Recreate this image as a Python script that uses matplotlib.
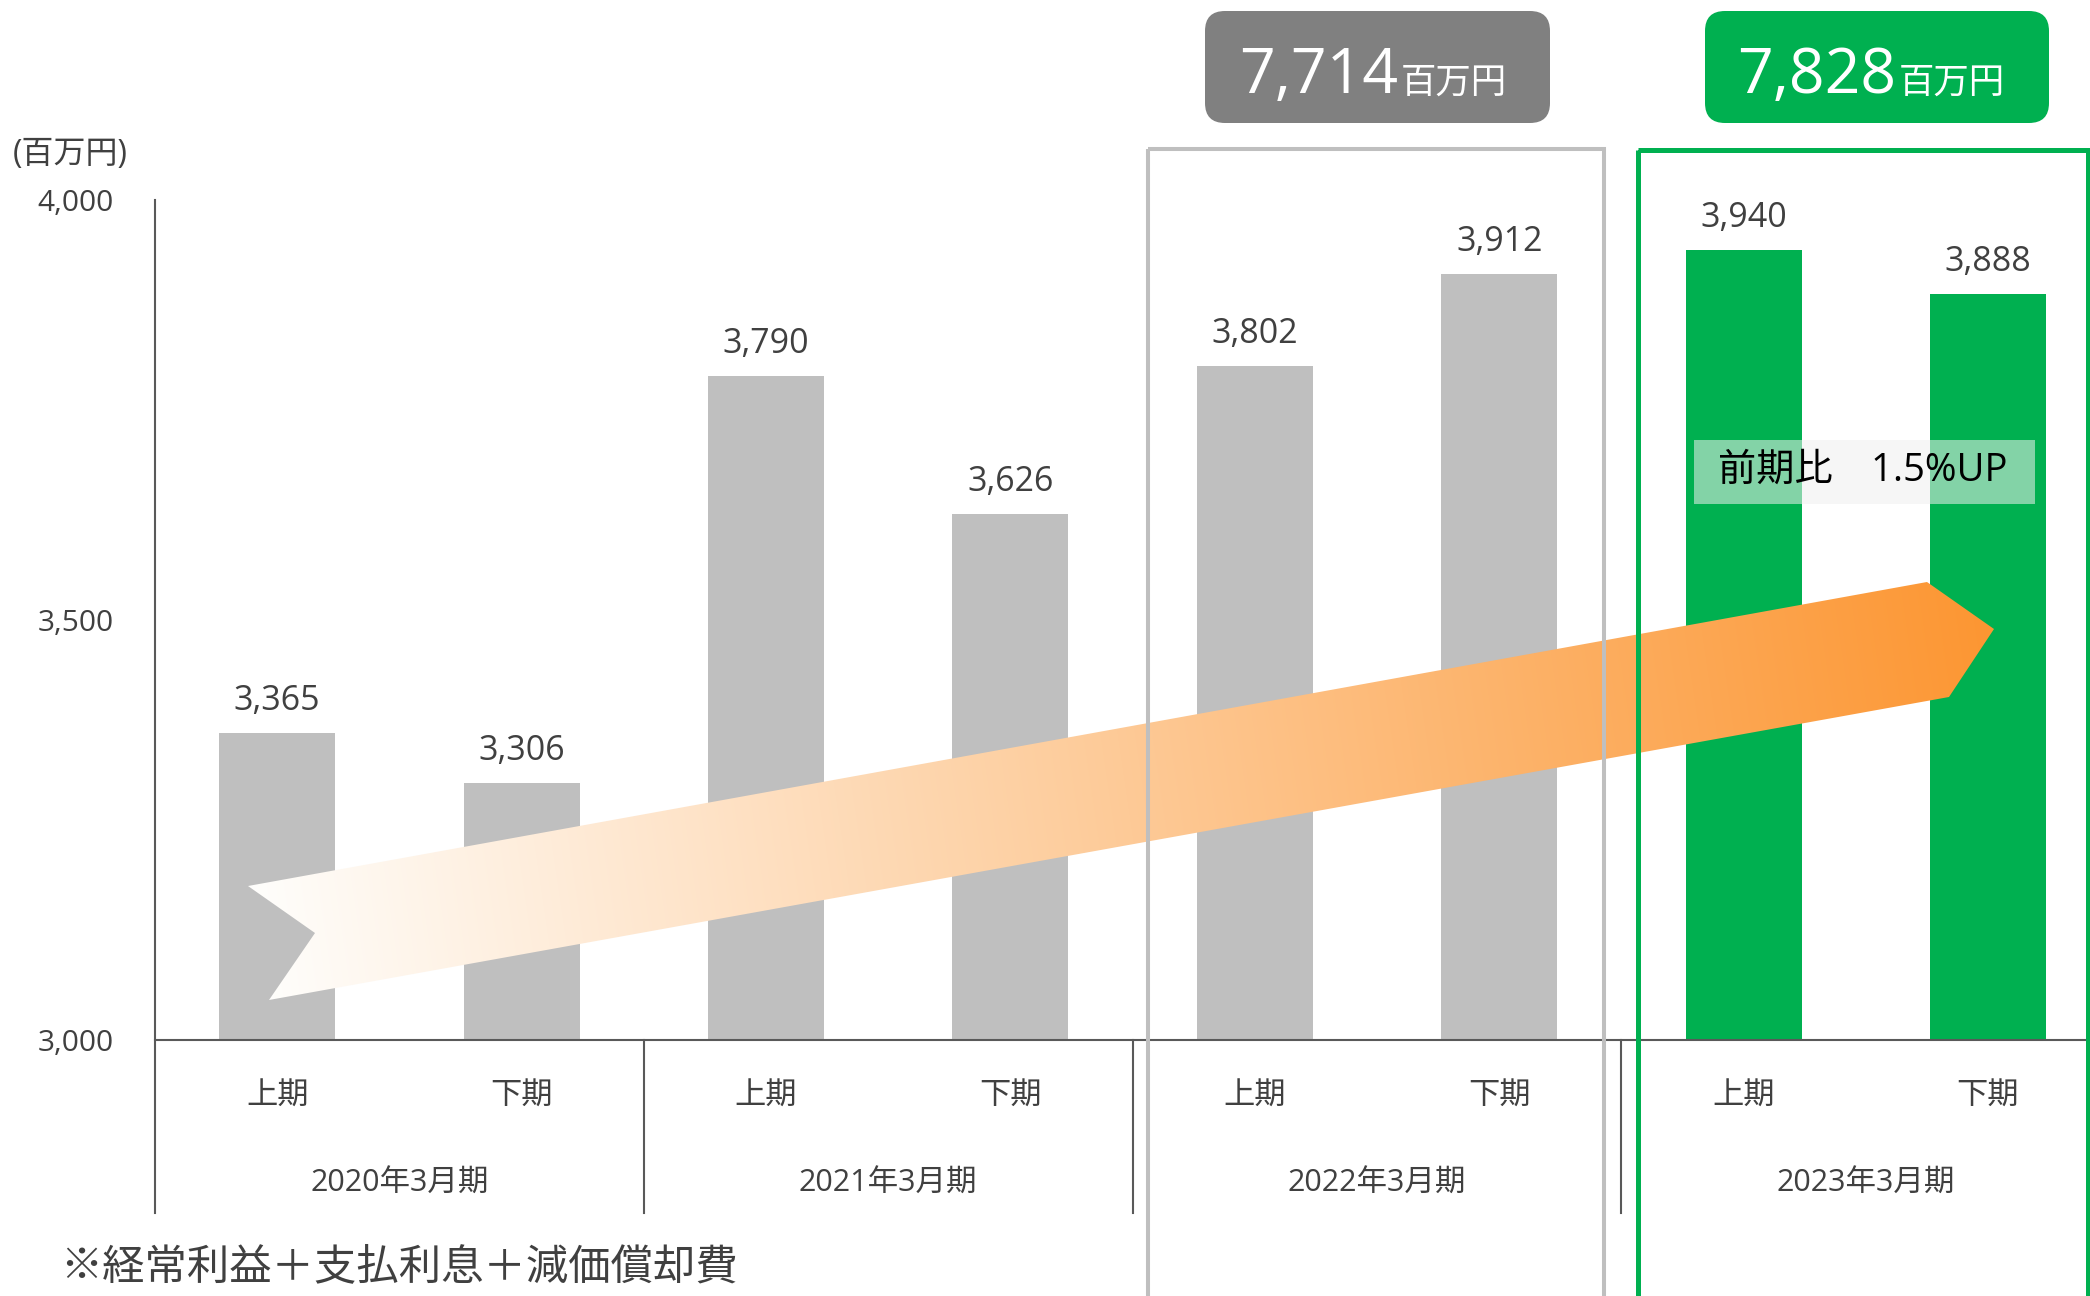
import numpy as np
import matplotlib
matplotlib.use("Agg")
import matplotlib.pyplot as plt
from matplotlib.patches import Polygon, Rectangle, FancyBboxPatch
from matplotlib.transforms import blended_transform_factory

plt.rcParams['font.family'] = ['Open Sans', 'Noto Sans CJK JP', 'DejaVu Sans']

# ---------------- data ----------------
years = ["2020年3月期", "2021年3月期", "2022年3月期", "2023年3月期"]
halves = ["上期", "下期"]
values = [3365, 3306, 3790, 3626, 3802, 3912, 3940, 3888]
bar_colors = ["#BFBFBF"] * 6 + ["#00B050"] * 2
y_ticks = [3000, 3500, 4000]
y_tick_labels = ["3,000", "3,500", "4,000"]
totals = ["7,714", "7,828"]
unit = "百万円"
badge_text = "前期比　1.5%UP"
footnote = "※経常利益＋支払利息＋減価償却費"
axis_unit = "(百万円)"

W, H = 2090, 1296
fig = plt.figure(figsize=(W / 100, H / 100), dpi=100)
fig.patch.set_facecolor("white")

TXT = "#404040"
AX = "#595959"

# main axes
ax_left, ax_bottom_px, ax_top_px = 155, 1040, 200
slot = 244.4
ax = fig.add_axes([ax_left / W, 1 - ax_bottom_px / H, (W - ax_left) / W,
                   (ax_bottom_px - ax_top_px) / H])
ax.set_xlim(0, (W - ax_left) / slot)
ax.set_ylim(3000, 4000)
for s in ax.spines.values():
    s.set_visible(False)
ax.set_xticks([])
ax.set_yticks(y_ticks)
ax.set_yticklabels(y_tick_labels)
ax.tick_params(axis='y', length=0, pad=30, labelsize=21.5, labelcolor=TXT)

x = np.arange(len(values)) + 0.5
ax.bar(x, [v - 3000 for v in values], bottom=3000, width=0.475,
       color=bar_colors, zorder=2)

for xi, v in zip(x, values):
    ax.annotate(f"{v:,}", (xi, v), xytext=(0, 23), textcoords="offset points",
                ha="center", va="center", fontsize=24.5, color=TXT)

bt = blended_transform_factory(ax.transData, ax.transAxes)
ax.plot([0, 0], [1, -0.206], transform=ax.transAxes, color=AX, lw=1.5,
        clip_on=False, zorder=3)
ax.plot([0, 1], [0, 0], transform=ax.transAxes, color=AX, lw=1.5,
        clip_on=False, zorder=3)
for g in range(1, len(years)):
    ax.plot([2 * g, 2 * g], [0, -0.206], transform=bt, color=AX, lw=1.5,
            clip_on=False, zorder=3)

for i, xi in enumerate(x):
    ax.text(xi, -0.067, halves[i % 2], transform=bt, ha="center", va="center",
            fontsize=22.5, color=TXT)
for g, yl in enumerate(years):
    ax.text(2 * g + 1, -0.171, yl, transform=bt, ha="center", va="center",
            fontsize=22, color=TXT)

# overlay axes in pixel coordinates for decorations
ov = fig.add_axes([0, 0, 1, 1])
ov.set_facecolor("none")
ov.axis("off")

# gradient arrow
arrow_pts = np.array([[248, 886], [1927, 582], [1994, 629], [1949, 697],
                      [269, 1000], [315, 933]])
x0, x1 = arrow_pts[:, 0].min(), arrow_pts[:, 0].max()
y0, y1 = arrow_pts[:, 1].min(), arrow_pts[:, 1].max()
gx, gy = np.meshgrid(np.linspace(x0, x1, 600), np.linspace(y0, y1, 200))
d = np.array([1994 - 248, 629 - 886], dtype=float)
t = ((gx - 248) * d[0] + (gy - 886) * d[1]) / (d @ d)
t = np.clip(t, 0, 1)
c0 = np.array([255, 254, 252]) / 255
c1 = np.array([252, 150, 50]) / 255
img = c0[None, None, :] * (1 - t[..., None]) + c1[None, None, :] * t[..., None]
im = ov.imshow(img, extent=(x0, x1, y1, y0), origin="upper", aspect="auto",
               zorder=1, interpolation="bilinear")
poly = Polygon(arrow_pts, closed=True, facecolor="none", edgecolor="none",
               transform=ov.transData)
ov.add_patch(poly)
im.set_clip_path(poly)

# period boxes
ov.add_patch(Rectangle((1148, 149), 456, 1300, fill=False, edgecolor="#BFBFBF",
                       lw=2.9, zorder=3))
ov.add_patch(Rectangle((1638, 150), 450, 1300, fill=False, edgecolor="#00B050",
                       lw=3.6, zorder=3))

# totals
tot_boxes = [(1205, 1550, "#808080", 1398), (1705, 2049, "#00B050", 1896)]
for (bx0, bx1, col, split), tv in zip(tot_boxes, totals):
    ov.add_patch(FancyBboxPatch((bx0, 11), bx1 - bx0, 112,
                                boxstyle="round,pad=0,rounding_size=20",
                                facecolor=col, edgecolor="none", zorder=4))
    ov.text(split, 93, tv, ha="right", va="baseline", fontsize=45,
            color="white", zorder=5)
    ov.text(split + 3, 93, unit, ha="left", va="baseline", fontsize=25.5,
            color="white", zorder=5)

# badge
ov.add_patch(Rectangle((1694, 440), 341, 64, facecolor=(240 / 255, 240 / 255, 240 / 255),
                       alpha=0.55, edgecolor="none", zorder=4))
ov.text(1863, 471, badge_text, ha="center", va="center", fontsize=27.5,
        color="black", zorder=5)

ov.text(70, 154, axis_unit, ha="center", va="center", fontsize=23, color=TXT)
ov.text(60, 1268, footnote, ha="left", va="center", fontsize=30.5, color=TXT)

ov.set_xlim(0, W)
ov.set_ylim(H, 0)

fig.savefig("out.png", dpi=100)
